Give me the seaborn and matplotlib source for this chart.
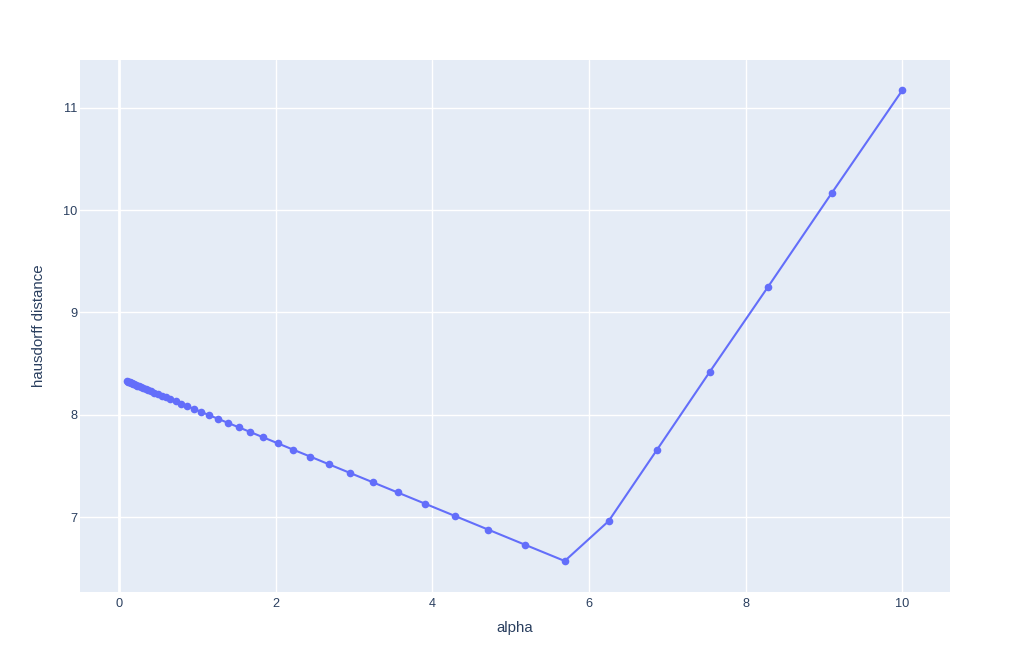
import matplotlib
matplotlib.use('Agg')
import pandas as pd
import matplotlib.pyplot as plt
import seaborn as sns

# =============================================================================
# Data
# =============================================================================
alpha = [0.1000, 0.1099, 0.1207, 0.1326, 0.1456, 0.1600, 0.1758, 0.1931,
         0.2121, 0.2330, 0.2560, 0.2812, 0.3089, 0.3393, 0.3728, 0.4095,
         0.4498, 0.4942, 0.5429, 0.5964, 0.6551, 0.7197, 0.7906, 0.8685,
         0.9541, 1.0481, 1.1514, 1.2649, 1.3895, 1.5264, 1.6768, 1.8421,
         2.0236, 2.2230, 2.4421, 2.6827, 2.9471, 3.2375, 3.5565, 3.9069,
         4.2919, 4.7149, 5.1795, 5.6899, 6.2506, 6.8665, 7.5431, 8.2864,
         9.1030, 10.0000]

hausdorff = [8.325, 8.322, 8.318, 8.315, 8.311, 8.306, 8.301, 8.296,
             8.290, 8.283, 8.276, 8.268, 8.259, 8.250, 8.239, 8.228,
             8.215, 8.201, 8.186, 8.169, 8.151, 8.130, 8.108, 8.084,
             8.057, 8.027, 7.995, 7.959, 7.920, 7.877, 7.830, 7.778,
             7.721, 7.658, 7.590, 7.514, 7.431, 7.340, 7.240, 7.130,
             7.009, 6.876, 6.730, 6.570, 6.960, 7.655, 8.420, 9.250,
             10.170, 11.170]

x_ticks = [0, 2, 4, 6, 8, 10]
y_ticks = [7, 8, 9, 10, 11]

df = pd.DataFrame({'alpha': alpha, 'hausdorff distance': hausdorff})

# =============================================================================
# Style (plotly-like look)
# =============================================================================
sns.set_theme(style='darkgrid', rc={
    'axes.facecolor': '#E5ECF6',
    'figure.facecolor': 'white',
    'grid.color': 'white',
    'grid.linewidth': 1.0,
    'axes.edgecolor': '#E5ECF6',
    'text.color': '#2a3f5f',
    'axes.labelcolor': '#2a3f5f',
    'xtick.color': '#2a3f5f',
    'ytick.color': '#2a3f5f',
})
plt.rcParams['font.family'] = ['Liberation Sans', 'DejaVu Sans']

fig = plt.figure(figsize=(10.3, 6.72), dpi=100)
ax = fig.add_axes([80 / 1030, 80 / 672, 870 / 1030, 532 / 672])

sns.lineplot(data=df, x='alpha', y='hausdorff distance', ax=ax,
             color='#636EFA', linewidth=1.5, marker='o', markersize=5.5,
             markeredgewidth=0, zorder=3)

# zero line
ax.axvline(0, color='white', linewidth=2, zorder=1)

ax.set_xlim(-0.5, 10.61)
ax.set_ylim(6.267, 11.467)
ax.set_xticks(x_ticks)
ax.set_yticks(y_ticks)
ax.tick_params(axis='x', labelsize=9.2, length=0, pad=4)
ax.tick_params(axis='y', labelsize=9.2, length=0, pad=2)
ax.set_xlabel('alpha', fontsize=10.8, labelpad=8)
ax.set_ylabel('hausdorff distance', fontsize=10.8, labelpad=12)
for s in ax.spines.values():
    s.set_visible(False)

fig.savefig('out.png', dpi=100)
